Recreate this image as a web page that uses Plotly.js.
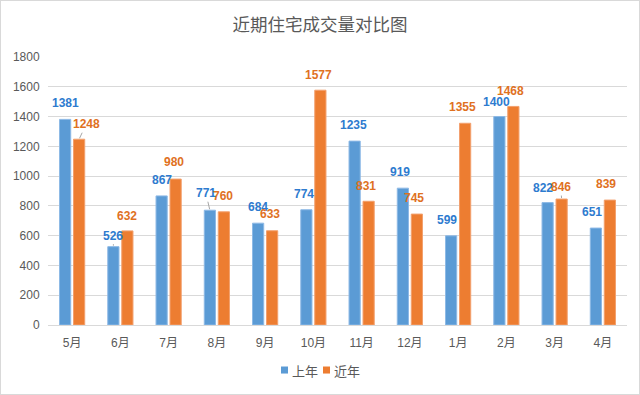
<!DOCTYPE html>
<html>
<head>
<meta charset="utf-8">
<script src="https://cdn.plot.ly/plotly-3.0.1.min.js"></script>
<style>
  html, body { margin: 0; padding: 0; background: #fff; }
  #frame { width: 638px; height: 393px; border: 1px solid #D9D9D9; overflow: hidden; }
  #chart { width: 638px; height: 393px; }
</style>
</head>
<body>
<div id="frame"><div id="chart"></div></div>
<script>
// ---- data ----
const categories = ['5月', '6月', '7月', '8月', '9月', '10月', '11月', '12月', '1月', '2月', '3月', '4月'];
const lastYear   = [1381, 526, 867, 771, 684, 774, 1235, 919, 599, 1400, 822, 651];
const recentYear = [1248, 632, 980, 760, 633, 1577, 831, 745, 1355, 1468, 846, 839];
const seriesNames = ['上年', '近年'];
const yTicks = [0, 200, 400, 600, 800, 1000, 1200, 1400, 1600, 1800];

// ---- label placement (pixel offsets from bar top, styling only) ----
const lastLabelDx   = [0, 0, 0, -4, 0, -2, -1, -3, -4, -3, -5, -4];
const lastLabelDy   = [16, 11, 16, 17, 16, 16, 16, 16, 16, 15, 15, 16];
const recentLabelDx = [7, 0, -2, -1, -2, -2, -3, -3, -3, -3, -1, -4];
const recentLabelDy = [15, 15, 17, 16, 17, 15, 15, 16, 16, 15, 12, 16];
const lastLeader    = [false, true, false, true, false, false, false, false, false, false, false, false];
const recentLeader  = [true, false, false, false, false, false, false, false, false, false, true, false];

const blue = '#5B9BD5', orange = '#ED7D31';
const blueText = '#2E7BCF', orangeText = '#E0711F';
const fontFam = 'Liberation Sans, Arial, Noto Sans CJK SC, sans-serif';
const cjkFam = 'Noto Sans CJK SC, sans-serif';
const barOffset = 7;

const traces = [
  { type: 'bar', name: seriesNames[0], x: categories, y: lastYear,
    marker: { color: blue, line: { color: '#8DB9E6', width: 1 } }, hoverinfo: 'x+y' },
  { type: 'bar', name: seriesNames[1], x: categories, y: recentYear,
    marker: { color: orange, line: { color: '#F3A06E', width: 1 } }, hoverinfo: 'x+y' }
];

const annotations = [];
function addLabels(vals, dxs, dys, leaders, shift, color) {
  vals.forEach((v, i) => {
    annotations.push({
      x: categories[i], y: v, xref: 'x', yref: 'y',
      text: String(v), xshift: shift,
      showarrow: true, ax: dxs[i], ay: -dys[i], axref: 'pixel', ayref: 'pixel',
      arrowhead: 0, arrowwidth: 1, standoff: 1,
      arrowcolor: leaders[i] ? '#A6A6A6' : 'rgba(0,0,0,0)',
      font: { family: fontFam, size: 12, color: color, weight: 'bold' }
    });
  });
}
addLabels(lastYear, lastLabelDx, lastLabelDy, lastLeader, -barOffset, blueText);
addLabels(recentYear, recentLabelDx, recentLabelDy, recentLeader, barOffset, orangeText);

// ---- custom compact legend (squares + real text) ----
const plotW = 638 - 47 - 12;
const legendY = -0.168;      // paper units, below plot
const legendItems = [
  { name: seriesNames[0], color: blue,   px: 233 },
  { name: seriesNames[1], color: orange, px: 275 }
];
const shapes = [];
legendItems.forEach(it => {
  const x0 = it.px / plotW, x1 = (it.px + 7) / plotW;
  shapes.push({ type: 'rect', xref: 'paper', yref: 'paper', x0: x0, x1: x1,
    y0: legendY - 3.5 / 267, y1: legendY + 3.5 / 267,
    fillcolor: it.color, line: { width: 0 } });
  annotations.push({ xref: 'paper', yref: 'paper', x: (it.px + 9) / plotW, y: legendY,
    xanchor: 'left', yanchor: 'middle', showarrow: false, text: it.name,
    font: { family: cjkFam, size: 13, color: '#595959' } });
});

const layout = {
  width: 638, height: 393,
  margin: { l: 47, r: 12, t: 56, b: 69 },
  paper_bgcolor: '#FFFFFF', plot_bgcolor: '#FFFFFF',
  font: { family: fontFam, size: 12, color: '#595959' },
  title: { text: '近期住宅成交量对比图', x: 0.5, xanchor: 'center', y: 0.94, yanchor: 'middle',
           font: { family: cjkFam, size: 17.5, color: '#595959' } },
  barmode: 'group', bargap: 0.42, bargroupgap: 0.2,
  showlegend: false,
  xaxis: { type: 'category', showgrid: false, showline: true, linecolor: '#D9D9D9', linewidth: 1,
           ticks: 'outside', ticklen: 7, tickcolor: 'rgba(0,0,0,0)',
           tickfont: { family: fontFam, size: 12, color: '#595959' }, fixedrange: true },
  yaxis: { range: [0, 1800], tickvals: yTicks, showgrid: true, gridcolor: '#D9D9D9', gridwidth: 1,
           zeroline: false, showline: false, ticks: 'outside', ticklen: 5, tickcolor: 'rgba(0,0,0,0)',
           tickfont: { family: fontFam, size: 12, color: '#595959' }, fixedrange: true },
  shapes: shapes,
  annotations: annotations
};

Plotly.newPlot('chart', traces, layout, { displayModeBar: false, staticPlot: true });
</script>
</body>
</html>
